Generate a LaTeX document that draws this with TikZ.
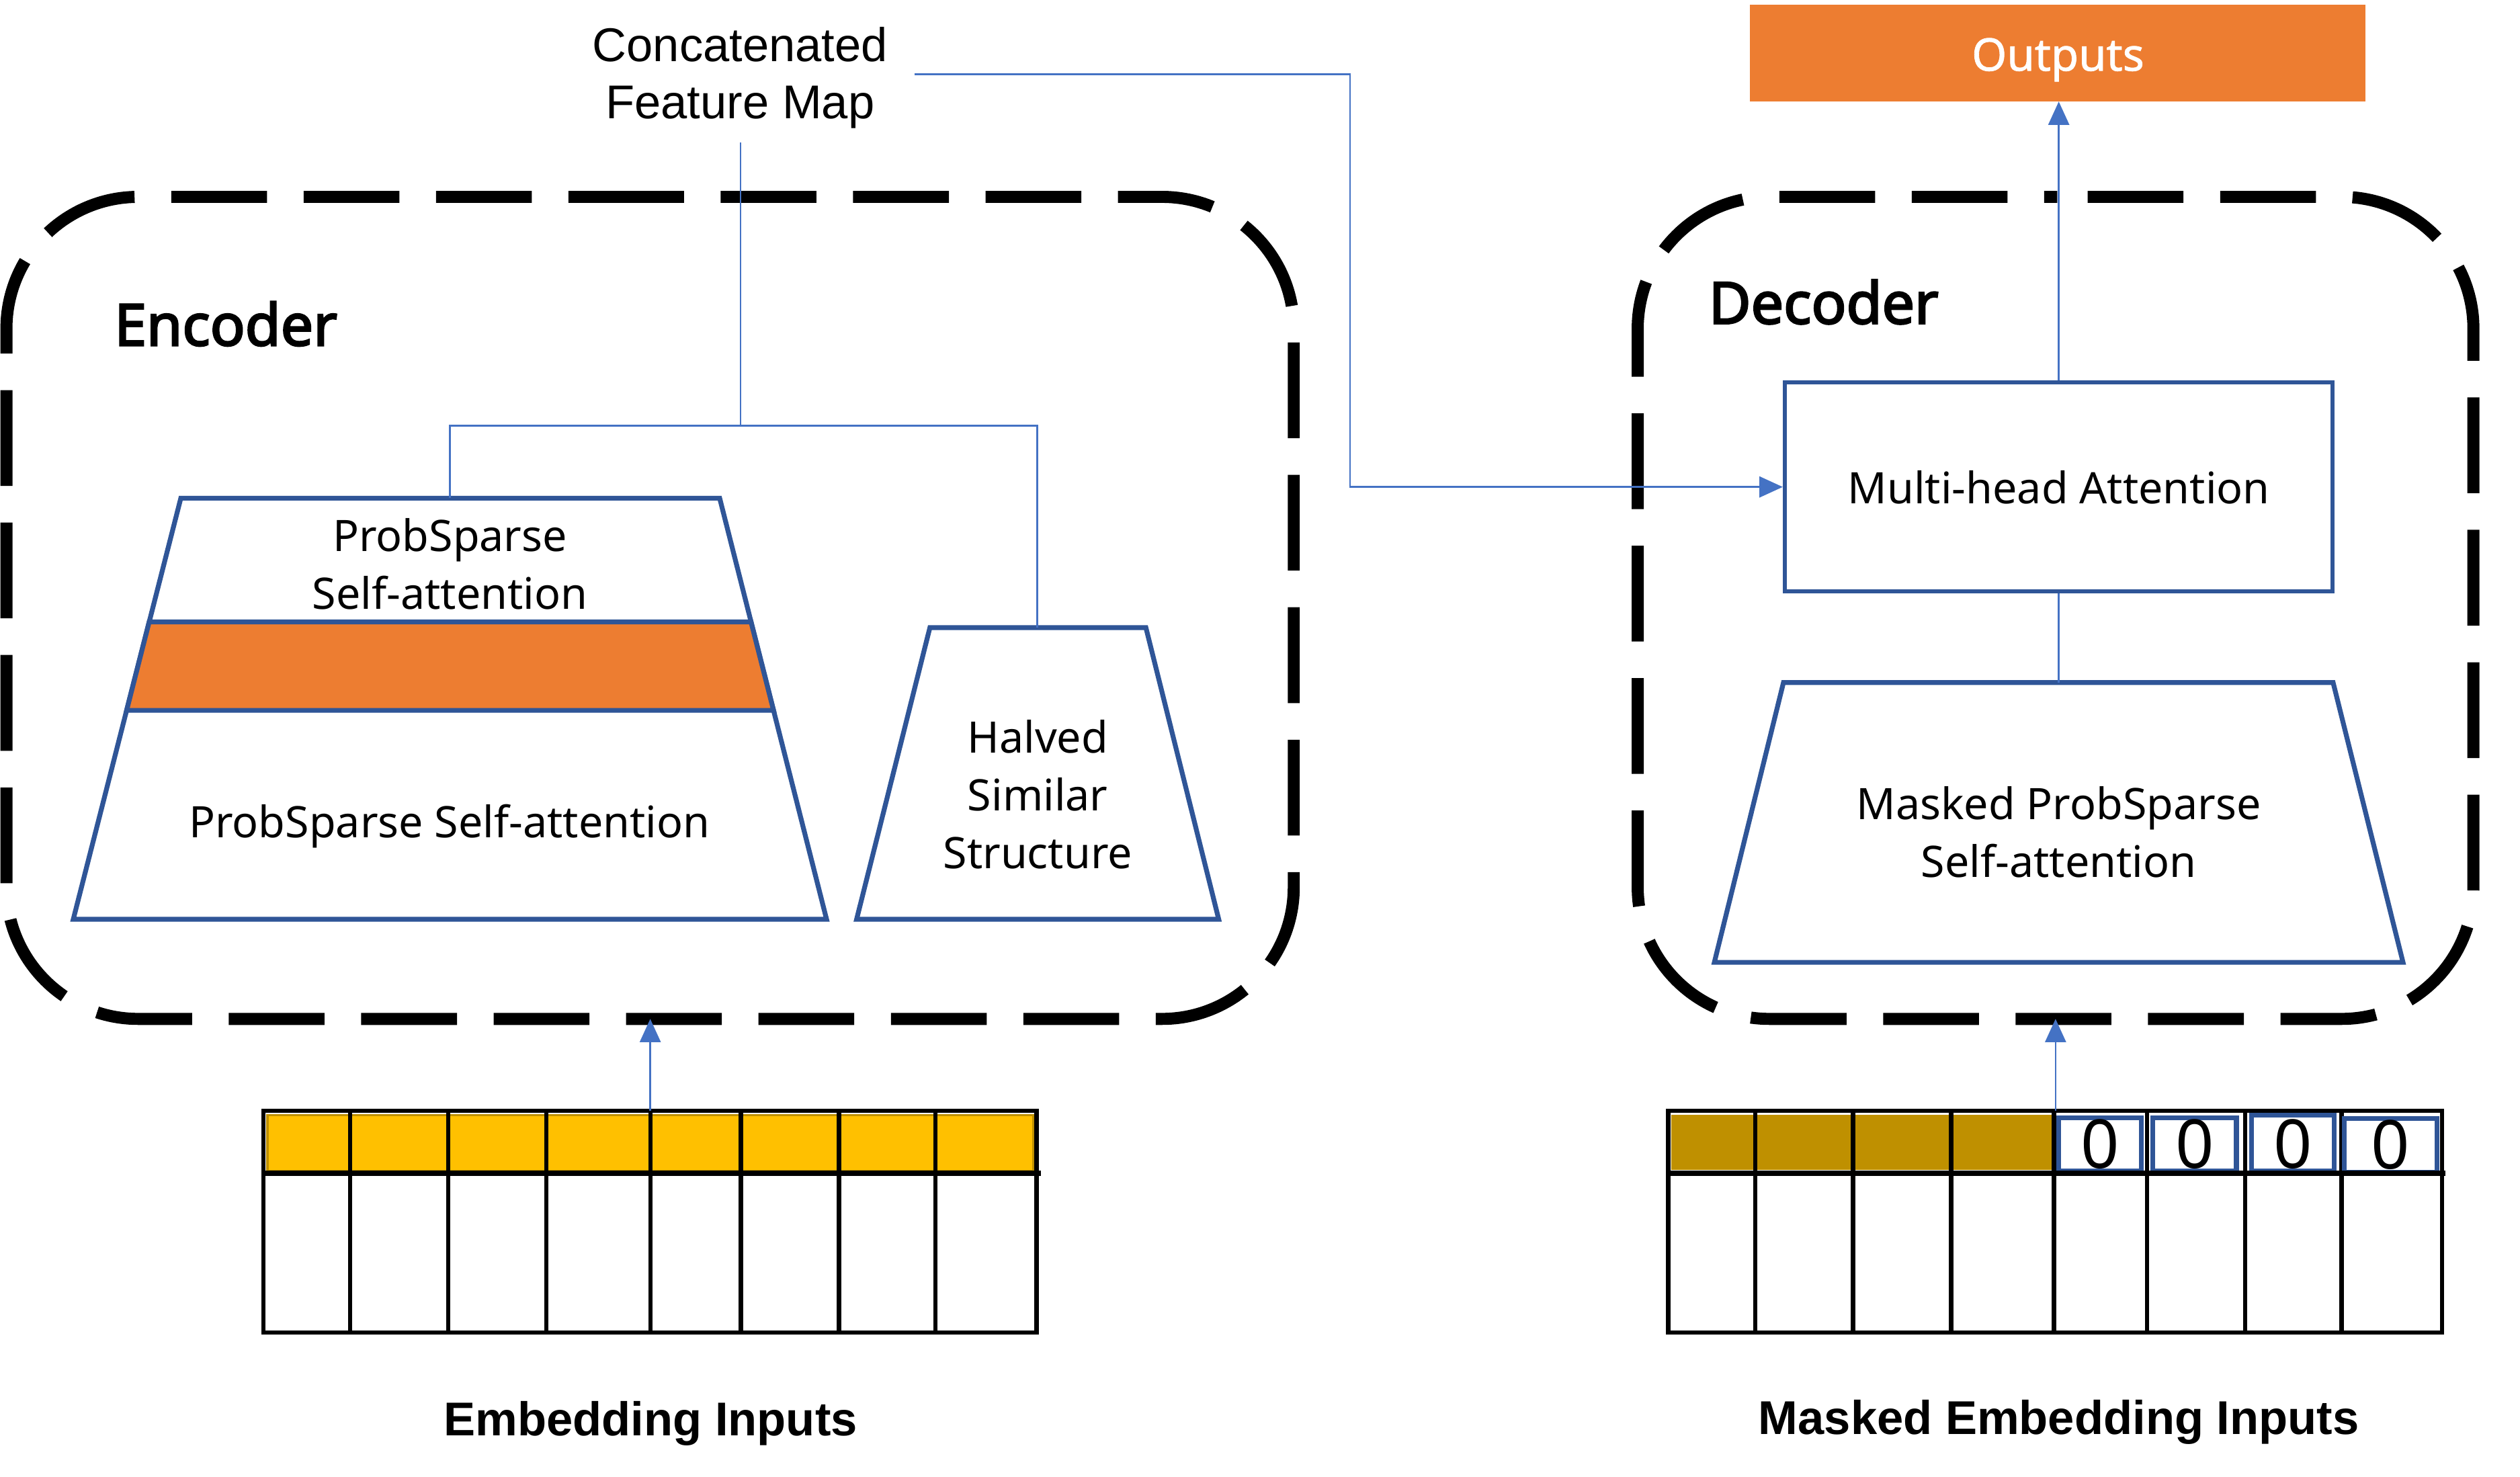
\documentclass[tikz,border=0pt]{standalone}
\usepackage{fontspec}
\setmainfont{Noto Sans}
\newfontfamily\arialf{Liberation Sans}
\newfontfamily\headf{Noto Sans}[FakeBold=3]
\newfontfamily\outf{Noto Sans}[FakeBold=1.2]
\usetikzlibrary{arrows.meta,calc}
\definecolor{linkblue}{HTML}{4472C4}
\definecolor{darkblue}{HTML}{2F5597}
\definecolor{orangeF}{HTML}{ED7D31}
\definecolor{yellowF}{HTML}{FFC000}
\definecolor{goldF}{HTML}{BF9000}
\newcommand\tstr{\rule{0pt}{30pt}}
\begin{document}
\begin{tikzpicture}[x=1pt,y=-1pt,
  conn/.style={draw=linkblue,line width=1.1pt},
  arr/.style={conn,-{Triangle[length=14.5pt,width=13pt]}},
  dashbox/.style={draw=black,line width=7.5pt,rounded corners=82pt,dash pattern=on 59.6pt off 22.8pt},
  trapz/.style={draw=darkblue,line width=3pt,line join=miter},
  lbl/.style={inner sep=0pt,outer sep=0pt,align=center,font=\fontsize{27}{36}\selectfont},
  headlbl/.style={inner sep=0pt,anchor=base west,font=\headf\fontsize{36}{40}\selectfont},
  inlbl/.style={inner sep=0pt,anchor=base,font=\arialf\bfseries\fontsize{29.5}{35}\selectfont},
  gridline/.style={draw=black,line width=2.6pt},
  zerobox/.style={draw=darkblue,line width=3pt,fill=white},
  zerotxt/.style={inner sep=0pt,anchor=base,font=\fontsize{42}{50}\selectfont}
]
\path[use as bounding box,fill=white] (0,0) rectangle (1568,919);

% ---------- dashed containers ----------
\draw[dashbox,dash phase=34pt] (400,122.5) -- (805,122.5) -- (805,634) -- (4,634) -- (4,122.5) -- (400,122.5);
\draw[dashbox,dash phase=63.4pt] (1280,122.5) -- (1539,122.5) -- (1539,634) -- (1019,634) -- (1019,122.5) -- (1280,122.5);
\coordinate (encbot) at (404.6,634);
\coordinate (decbot) at (1279,634);

\node[headlbl] (enclbl) at (71,215) {Encoder};
\node[headlbl] (declbl) at (1063,201.4) {Decoder};

% ---------- encoder stack ----------
\draw[trapz,fill=white] (112.5,310) -- (447.8,310) -- (514.3,572) -- (45.6,572) -- cycle;
\draw[trapz,fill=orangeF] (92.8,387) -- (467.3,387) -- (481.3,442) -- (78.8,442) -- cycle;
\coordinate (t1top) at (280,310);
\node[lbl,anchor=north] (t1a) at (280,313) {\tstr ProbSparse\\Self-attention};
\node[lbl,anchor=base] (t1b) at (279.7,521) {ProbSparse Self-attention};

\draw[trapz,fill=white] (578.6,390.5) -- (713,390.5) -- (758.3,572) -- (533,572) -- cycle;
\coordinate (htop) at (645.5,390.5);
\node[lbl,anchor=north] (hss) at (645.7,438.3) {\tstr Halved\\Similar\\Structure};

% ---------- decoder stack ----------
\draw[trapz,fill=white] (1109.7,424.7) -- (1451.7,424.7) -- (1495.2,598.8) -- (1066.7,598.8) -- cycle;
\coordinate (mtop) at (1281,424.7);
\node[lbl,anchor=north] (mps) at (1281,480) {\tstr Masked ProbSparse\\Self-attention};

\node[draw=darkblue,line width=2.5pt,fill=white,minimum width=341pt,minimum height=130pt,inner sep=0pt,
      text height=21pt,text depth=0pt,font=\fontsize{27}{36}\selectfont] (mha) at (1281,303) {Multi-head Attention};

\node[fill=orangeF,minimum width=383pt,minimum height=60pt,inner sep=0pt,text=white,
      text height=26pt,text depth=4pt,font=\outf\fontsize{28}{34}\selectfont] (outputs) at (1280.5,33) {Outputs};

% ---------- feature map label ----------
\node[lbl,anchor=north,font=\arialf\fontsize{29.5}{35.4}\selectfont] (cfm) at (460.5,8.3) {\tstr Concatenated\\Feature Map};
\coordinate (cfmdown) at (460.7,88.6);
\coordinate (cfmright) at (569,46.3);
\coordinate (join) at (460.7,265);
\coordinate (bend) at (840,46.3);

% ---------- input grids ----------
\draw[goldF,fill=yellowF,line width=1.5pt] (166.5,693.8) rectangle (643,728.5);
\draw[gridline] (164,691) rectangle (645,829);
\foreach \x in {218,279,340,404.6,461,522,582} \draw[gridline] (\x,691) -- (\x,829);
\draw[draw=black,line width=3.2pt] (164,730) -- (647.5,730);
\coordinate (egtop) at (404.6,691);

\fill[goldF] (1040,693.5) rectangle (1278,728);
\draw[gridline] (1038,691) rectangle (1519.5,829);
\foreach \x in {1092,1153,1214,1278,1336,1397,1457} \draw[gridline] (\x,691) -- (\x,829);
\draw[zerobox] (1281,695.5) rectangle (1332.5,728.5);
\draw[zerobox] (1339.5,695.5) rectangle (1391.5,728.5);
\draw[zerobox] (1401,694) rectangle (1452.5,728.5);
\draw[zerobox] (1458.5,696) rectangle (1516.5,729.5);
\node[zerotxt] (z1) at (1306.8,727) {0};
\node[zerotxt] (z2) at (1365.5,727) {0};
\node[zerotxt] (z3) at (1426.8,727) {0};
\node[zerotxt] (z4) at (1487.5,727.5) {0};
\draw[draw=black,line width=3.2pt] (1038,730) -- (1521.5,730);
\coordinate (dgtop) at (1279,691);

\node[inlbl] (einp) at (404.8,893.3) {Embedding Inputs};
\node[inlbl] (minp) at (1281,892.5) {Masked Embedding Inputs};

% ---------- connectors ----------
\draw[conn] (cfmdown) -- (join);
\draw[conn] (t1top) -- (t1top |- join) -- (htop |- join) -- (htop);
\draw[arr] (cfmright) -| (bend |- mha.west) -- (mha.west);
\draw[arr] (mha.north) -- (mha.north |- outputs.south);
\draw[conn] (mha.south) -- (mtop);
\draw[arr] (egtop) -- (encbot);
\draw[arr] (dgtop) -- (decbot);
\end{tikzpicture}
\end{document}
